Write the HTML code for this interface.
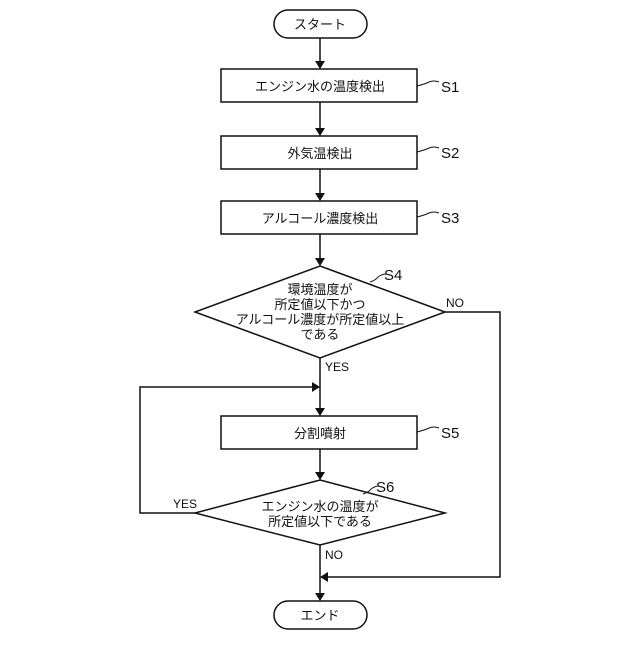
<!DOCTYPE html>
<html><head><meta charset="utf-8"><style>
html,body{margin:0;padding:0;background:#fff;}
svg text{font-family:"Liberation Sans","Noto Sans CJK JP",sans-serif;fill:#111;}
</style></head><body>
<svg width="640" height="640" viewBox="0 0 640 640" xmlns="http://www.w3.org/2000/svg">
<defs><marker id="a" markerWidth="8" markerHeight="10" refX="7" refY="5" orient="auto" markerUnits="userSpaceOnUse"><path d="M0,0 L8,5 L0,10 z" fill="#111"/></marker></defs>
<g stroke="#111" stroke-width="1.5" fill="none">
<rect x="274" y="10" width="93" height="28" rx="14"/>
<rect x="221" y="69" width="196" height="33"/>
<rect x="221" y="136" width="196" height="33"/>
<rect x="221" y="201" width="196" height="33"/>
<polygon points="320,266 445,312 320,358 195,312"/>
<rect x="221" y="416" width="196" height="33"/>
<polygon points="320,480 445,513 320,545 195,513"/>
<rect x="274" y="601" width="93" height="28" rx="14"/>
<line x1="320" y1="38" x2="320" y2="68" marker-end="url(#a)"/>
<line x1="320" y1="102" x2="320" y2="135" marker-end="url(#a)"/>
<line x1="320" y1="169" x2="320" y2="200" marker-end="url(#a)"/>
<line x1="320" y1="234" x2="320" y2="265" marker-end="url(#a)"/>
<line x1="320" y1="358" x2="320" y2="415" marker-end="url(#a)"/>
<line x1="320" y1="449" x2="320" y2="479" marker-end="url(#a)"/>
<line x1="320" y1="545" x2="320" y2="600" marker-end="url(#a)"/>
<polyline points="445,312 500,312 500,577 321,577" marker-end="url(#a)"/>
<polyline points="195,513 140,513 140,387 319,387" marker-end="url(#a)"/>
<g stroke-width="1">
<path d="M417,86 q8,-2 12,-4 q5,-2 10,0"/>
<path d="M417,152 q8,-2 12,-4 q5,-2 10,0"/>
<path d="M417,217 q8,-2 12,-4 q5,-2 10,0"/>
<path d="M417,432 q8,-2 12,-4 q5,-2 10,0"/>
<path d="M370,282 q6,-2 8,-5 q4,-3 8,-3"/>
<path d="M363,494 q6,-2 8,-5 q4,-3 8,-3"/>
</g>
</g>
<g font-size="13" text-anchor="middle">
<text x="320" y="29">スタート</text>
<text x="320" y="91">エンジン水の温度検出</text>
<text x="320" y="158">外気温検出</text>
<text x="320" y="223">アルコール濃度検出</text>
<text x="320" y="294">環境温度が</text>
<text x="320" y="309">所定値以下かつ</text>
<text x="320" y="324">アルコール濃度が所定値以上</text>
<text x="320" y="339">である</text>
<text x="320" y="438">分割噴射</text>
<text x="320" y="511">エンジン水の温度が</text>
<text x="320" y="526">所定値以下である</text>
<text x="320" y="620">エンド</text>
</g>
<g font-size="15">
<text x="441" y="92">S1</text>
<text x="441" y="158">S2</text>
<text x="441" y="223">S3</text>
<text x="441" y="438">S5</text>
<text x="384" y="280">S4</text>
<text x="376" y="492">S6</text>
</g>
<g font-size="12">
<text x="446" y="307">NO</text>
<text x="325" y="371">YES</text>
<text x="173" y="508">YES</text>
<text x="325" y="559">NO</text>
</g>
</svg>
</body></html>
